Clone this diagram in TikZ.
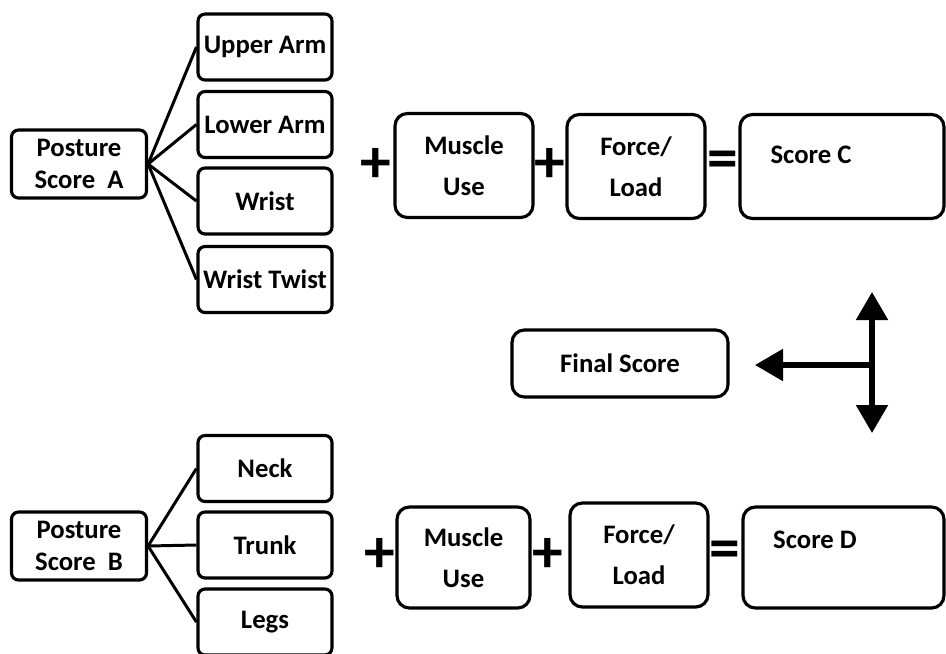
\documentclass[tikz,border=0pt]{standalone}
\usepackage{fontspec}
\setmainfont{Carlito}
\usetikzlibrary{arrows.meta}

\begin{document}
\begin{tikzpicture}[x=0.02cm, y=-0.02cm,
  every node/.style={font=\fontsize{15.2}{18.5}\selectfont\bfseries},
  part/.style={draw, line width=1.8pt, rounded corners=4pt, minimum width=2.68cm, minimum height=1.32cm, inner sep=0pt},
  posture/.style={part, minimum width=2.7cm, minimum height=1.36cm, align=center},
  term/.style={draw, line width=1.8pt, rounded corners=7pt, minimum width=2.76cm, minimum height=2.08cm, align=center, inner sep=0pt},
  op/.style={font=\fontsize{35}{35}\selectfont\bfseries, inner sep=0pt},
  link/.style={line width=1.7pt},
  bigarrow/.style={line width=3pt, -{Triangle[width=0.62cm,length=0.56cm]}}]

\useasboundingbox (0,0) rectangle (946,653);

% posture A and its parts
\node[posture] (pa) at (79,164) {Posture\\Score\ \ A};
\node[part] (ua) at (265,47) {Upper Arm};
\node[part] (la) at (265,124.5) {Lower Arm};
\node[part] (wr) at (265,201) {Wrist};
\node[part] (wt) at (265,279.5) {Wrist Twist};
\foreach \p in {ua,la,wr,wt}
  \draw[link] (pa.east) -- (\p.west);

% top sum
\node[op] (plA) at (376,165) {+};
\node[term] (muA) at (464,165.5) {Muscle\\[5pt]Use};
\node[op] (pfA) at (550,165) {+};
\node[term] (foA) at (636,166.5) {Force/\\[5pt]Load};
\node[op] (eqA) at (723,165) {=};
\node[term, minimum width=4.08cm] (scC) at (842,166.5) {};
\node (scCt) at (811,155) {Score C};

% final score
\node[term, minimum width=4.32cm, minimum height=1.34cm] (fin) at (620,363.5) {Final Score};
\coordinate (jn) at (872,365);
\coordinate (up) at (872,292);
\coordinate (dn) at (872,433);
\coordinate (lt) at (755,365);
\draw[bigarrow] (jn) -- (lt);
\draw[bigarrow] (jn) -- (up);
\draw[bigarrow] (jn) -- (dn);

% posture B and its parts
\node[posture] (pb) at (79,546) {Posture\\Score\ \ B};
\node[part] (nk) at (265,468.5) {Neck};
\node[part] (tr) at (265,545) {Trunk};
\node[part] (lg) at (265,622) {Legs};
\foreach \p in {nk,tr,lg}
  \draw[link] (pb.east) -- (\p.west);

% bottom sum
\node[op] (plB) at (380,555) {+};
\node[term, minimum width=2.66cm, minimum height=2.02cm] (muB) at (463.5,557.5) {Muscle\\[5pt]Use};
\node[op] (pfB) at (548,555) {+};
\node[term] (foB) at (639,555) {Force/\\[5pt]Load};
\node[op] (eqB) at (725,555) {=};
\node[term, minimum width=4.02cm, minimum height=2.02cm] (scD) at (843.5,557.5) {};
\node (scDt) at (815,540) {Score D};
\end{tikzpicture}
\end{document}
